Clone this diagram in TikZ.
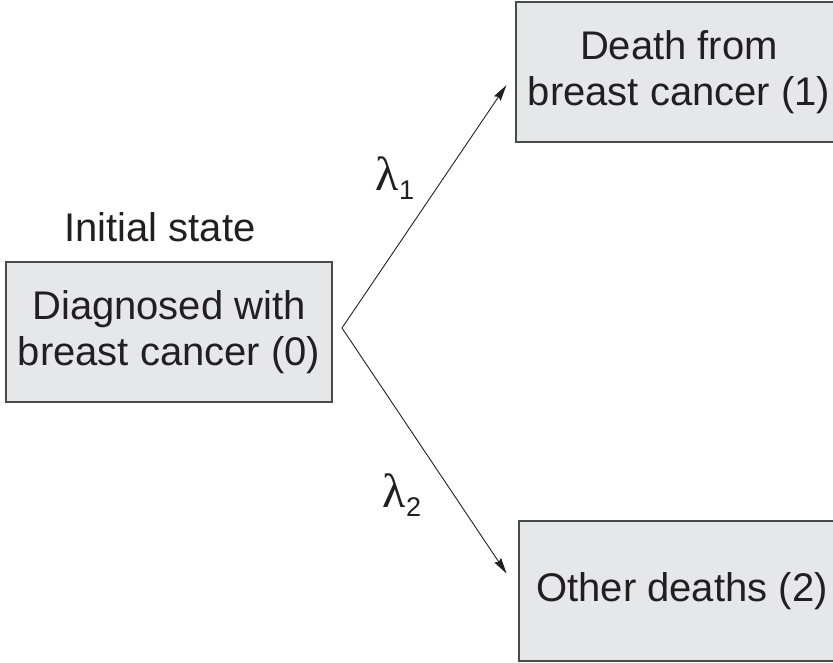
\documentclass[tikz,border=0pt]{standalone}
\usepackage{fontspec}
\setmainfont{Liberation Sans}
\newfontfamily\ratefont{Liberation Serif}
\usetikzlibrary{arrows.meta}
\definecolor{boxfill}{HTML}{E6E7E8}
\definecolor{boxline}{HTML}{4A4A4A}
\definecolor{ink}{HTML}{231F20}
% rate symbol: upright lambda followed by a lowered sans index
\newcommand{\ratesym}[1]{{\ratefont\fontsize{48}{48}\selectfont λ}\raisebox{-9pt}{\fontsize{27}{27}\selectfont #1}}
\begin{document}
\begin{tikzpicture}[x=1pt,y=-1pt,
  state/.style={draw=boxline, line width=1.4pt, fill=boxfill, text=ink,
    minimum width=326pt, minimum height=140pt, inner sep=0pt, align=center,
    font=\fontsize{40}{46}\selectfont},
  plain/.style={text=ink, inner sep=0pt, font=\fontsize{40}{46}\selectfont},
  trans/.style={draw=ink, line width=0.9pt, -{Stealth[length=16pt,width=8pt,inset=2pt]}},
  rate/.style={text=ink, inner sep=0pt}]
  \useasboundingbox (0,0) rectangle (833,662);
  \clip (0,0) rectangle (833,662);

  % states
  \node[state] (s0) at (169,332) {Diagnosed with\\breast cancer (0)};
  \node[state] (s1) at (679,72) {Death from\\breast cancer (1)};
  \node[state] (s2) at (682,591) {Other deaths (2)};
  \node[plain] (init) at (160,227) {Initial state};

  % branching point of both transitions
  \coordinate (fork) at (342,328);

  \draw[trans, shorten >=16pt] (fork) -- (s1.west);
  \draw[trans, shorten >=21pt] (fork) -- (s2.west);

  % transition rates
  \node[rate] (l1) at (395,178) {\ratesym{1}};
  \node[rate] (l2) at (402,495) {\ratesym{2}};
\end{tikzpicture}
\end{document}
